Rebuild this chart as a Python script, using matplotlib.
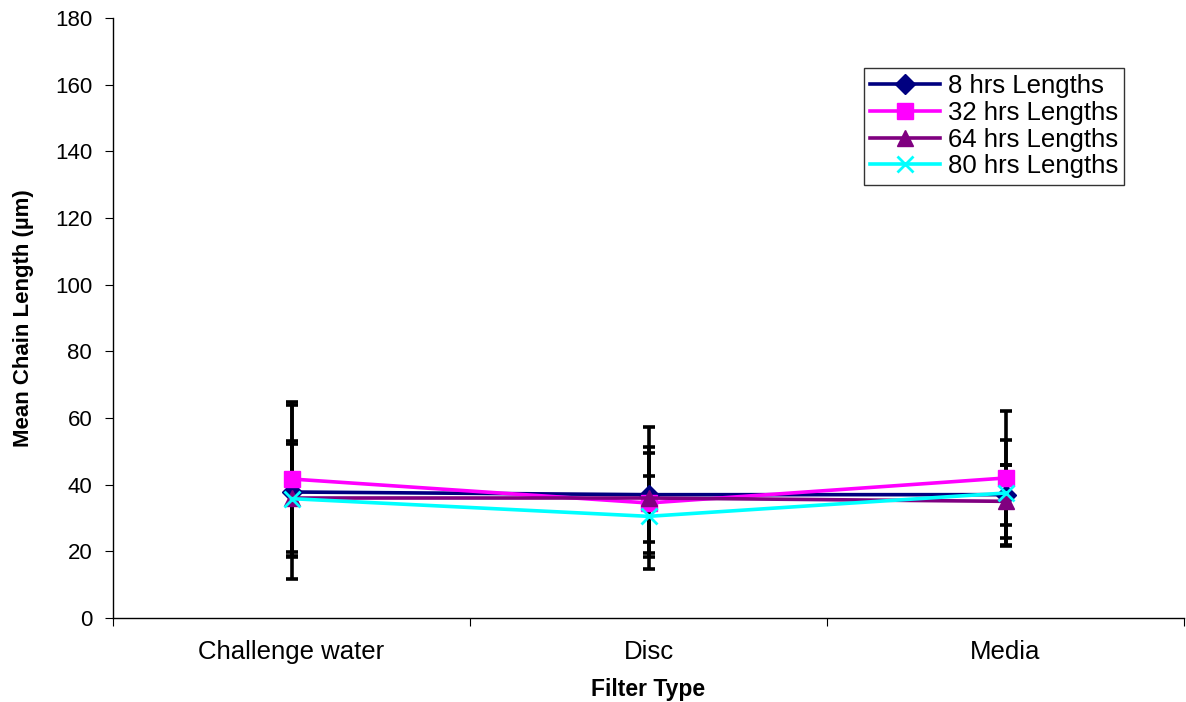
import matplotlib
matplotlib.use("Agg")
import matplotlib.pyplot as plt
import numpy as np

plt.rcParams['font.family'] = ['Liberation Sans', 'DejaVu Sans']

categories = ["Challenge water", "Disc", "Media"]
series_names = ["8 hrs Lengths", "32 hrs Lengths", "64 hrs Lengths", "80 hrs Lengths"]
means_8h = [37.8, 37.0, 37.0]
means_32h = [41.7, 34.5, 42.0]
means_64h = [36.0, 36.0, 35.0]
means_80h = [35.8, 30.5, 37.5]
err_8h = [26.1, 14.2, 9.0]
err_32h = [23.0, 15.0, 20.0]
err_64h = [16.2, 21.4, 10.9]
err_80h = [17.4, 12.1, 16.0]

colors = ["#000080", "#FF00FF", "#800080", "#00FFFF"]
markers = ["D", "s", "^", "x"]
msizes = [10, 12, 12, 11]

fig = plt.figure(figsize=(11.86, 7.02), dpi=100)
ax_left, ax_right = 113, 1184
ax = fig.add_axes([ax_left/1186, 1 - 618/702, (ax_right - ax_left)/1186, 600/702])

x = np.arange(len(categories)) + 0.5
all_means = [means_8h, means_32h, means_64h, means_80h]
all_errs = [err_8h, err_32h, err_64h, err_80h]

for m, e in zip(all_means, all_errs):
    ax.errorbar(x, m, yerr=e, fmt='none', ecolor='black', elinewidth=2.6,
                capsize=4.5, capthick=2.6, zorder=2)

for m, name, c, mk, ms in zip(all_means, series_names, colors, markers, msizes):
    kw = dict(markeredgewidth=2) if mk == "x" else {}
    ax.plot(x, m, color=c, linewidth=2.6, marker=mk, markersize=ms,
            label=name, zorder=3, **kw)

ax.set_xlim(0, 3)
ax.set_ylim(0, 180)
ax.set_yticks(np.arange(0, 181, 20))
ax.set_xticks([0, 1, 2, 3], minor=False)
ax.set_xticklabels([])
ax.set_xticks(x, minor=True)
ax.set_xticklabels(categories, minor=True)
ax.tick_params(axis='x', which='minor', length=0, pad=16, labelsize=18.5)
ax.tick_params(axis='x', which='major', direction='out', length=6, color='black')
ax.tick_params(axis='y', direction='out', length=6, labelsize=16, pad=9)

for s in ['top', 'right']:
    ax.spines[s].set_visible(False)
for s in ['left', 'bottom']:
    ax.spines[s].set_linewidth(1)

ax.set_xlabel("Filter Type", fontsize=16.5, fontweight='bold', labelpad=10)
ax.set_ylabel("Mean Chain Length (µm)", fontsize=16, fontweight='bold', labelpad=15)

leg = ax.legend(loc='upper left',
                bbox_to_anchor=((864 - ax_left)/(ax_right - ax_left), (618 - 68)/600),
                fontsize=18.5, frameon=True, fancybox=False, edgecolor='black',
                handlelength=2.7, borderpad=0.25, labelspacing=0.1, borderaxespad=0,
                handletextpad=0.3)
leg.get_frame().set_linewidth(1)

fig.savefig("out.png", dpi=100)
